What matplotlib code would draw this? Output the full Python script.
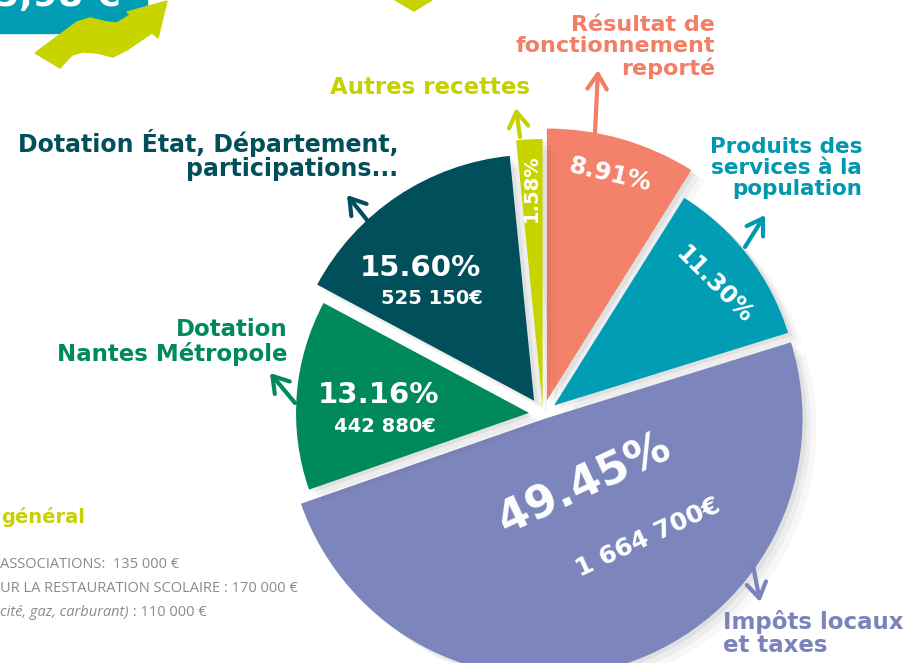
import matplotlib
matplotlib.use('Agg')
import matplotlib.pyplot as plt
import matplotlib.patheffects as pe
from matplotlib.patches import Rectangle, Polygon

W, H = 913, 663

# recettes de fonctionnement
labels = ['Résultat de\nfonctionnement\nreporté',
          'Produits des\nservices à la\npopulation',
          'Impôts locaux\net taxes',
          'Dotation\nNantes Métropole',
          'Dotation État, Département,\nparticipations...',
          'Autres recettes']
shares = [8.91, 11.30, 49.45, 13.16, 15.60, 1.58]
amounts = ['', '', '1 664 700€', '442 880€', '525 150€', '']
colors = ['#F4826A', '#009DB5', '#7D86BC', '#008A5A', '#004F5A', '#C8D400']

# bottom-left note
notes = ['ASSOCIATIONS:  135 000 €',
         'UR LA RESTAURATION SCOLAIRE : 170 000 €']
note_italic = 'cité, gaz, carburant)'
note_last = ' : 110 000 €'

# style per slice (pixels)
explode = [14, 14, 5, 14, 16, 8]
radii = [272, 245, 258, 233, 246, 267]


def Y(y):
    return H - y


fig = plt.figure(figsize=(W / 100, H / 100), dpi=100)
ax = fig.add_axes([0, 0, 1, 1])

wedges, _ = ax.pie(shares, colors=colors, explode=explode, center=(543, Y(414)),
                   radius=255, startangle=90, counterclock=False)
soft_shadow = [pe.SimplePatchShadow(offset=(10, -8), shadow_rgbFace='k', alpha=0.03),
               pe.SimplePatchShadow(offset=(6, -5), shadow_rgbFace='k', alpha=0.04),
               pe.SimplePatchShadow(offset=(3, -2), shadow_rgbFace='k', alpha=0.05),
               pe.Normal()]
for w, r in zip(wedges, radii):
    w.set_radius(r)
    w.set_path_effects(soft_shadow)

ax.set_xlim(0, W)
ax.set_ylim(0, H)
ax.set_aspect('equal')
ax.axis('off')

font = 'DejaVu Sans'

# values inside the slices
pct = [f'{s:.2f}%' for s in shares]
ax.text(610, Y(175), pct[0], color='white', fontsize=17.5, fontweight='bold', rotation=-13,
        ha='center', va='center', family=font)
ax.text(714, Y(285), pct[1], color='white', fontsize=17, fontweight='bold', rotation=-45,
        ha='center', va='center', family=font)
ax.text(584, Y(484), pct[2], color='white', fontsize=32, fontweight='bold', rotation=25,
        ha='center', va='center', family=font)
ax.text(648, Y(538), amounts[2], color='white', fontsize=18, fontweight='bold', rotation=25,
        ha='center', va='center', family=font)
ax.text(378, Y(395), pct[3], color='white', fontsize=21, fontweight='bold',
        ha='center', va='center', family=font)
ax.text(385, Y(427), amounts[3], color='white', fontsize=14, fontweight='bold',
        ha='center', va='center', family=font)
ax.text(420, Y(268), pct[4], color='white', fontsize=21, fontweight='bold',
        ha='center', va='center', family=font)
ax.text(432, Y(299), amounts[4], color='white', fontsize=14, fontweight='bold',
        ha='center', va='center', family=font)
ax.text(531, Y(188), pct[5], color='white', fontsize=14, fontweight='bold', rotation=90,
        ha='center', va='center', family=font)

# outer labels
text_colors = ['#F27E66', '#0097B0', '#7B84BA', '#008A5C', '#004F5A', '#C5D200']
ax.text(715, Y(47), labels[0], color=text_colors[0], fontsize=16, fontweight='bold',
        ha='right', va='center', linespacing=1.1, family=font)
ax.text(862, Y(168), labels[1], color=text_colors[1], fontsize=15.5, fontweight='bold',
        ha='right', va='center', linespacing=1.05, family=font)
ax.text(723, Y(633), labels[2], color=text_colors[2], fontsize=16.5, fontweight='bold',
        ha='left', va='center', linespacing=1.0, family=font)
ax.text(287, Y(342), labels[3], color=text_colors[3], fontsize=16.5, fontweight='bold',
        ha='right', va='center', linespacing=1.1, family=font)
ax.text(398, Y(155), labels[4], color=text_colors[4], fontsize=17, fontweight='bold',
        ha='right', va='center', linespacing=1.05, family=font)
ax.text(530, Y(88), labels[5], color=text_colors[5], fontsize=16.5, fontweight='bold',
        ha='right', va='center', family=font)

# arrows from slices to labels
arrows = [((595, 133), (598, 70)),
          ((745, 247), (765, 215)),
          ((752, 560), (760, 602)),
          ((295, 403), (270, 373)),
          ((367, 220), (347, 195)),
          ((520, 137), (516, 108))]
for (tail, tip), c in zip(arrows, text_colors):
    ax.annotate('', xy=(tip[0], Y(tip[1])), xytext=(tail[0], Y(tail[1])),
                arrowprops=dict(arrowstyle='->,head_length=0.55,head_width=0.35', color=c,
                                lw=3, mutation_scale=20, shrinkA=0, shrinkB=0,
                                capstyle='round', joinstyle='round'))

# decorations at the top (cut off in the original)
ax.add_patch(Rectangle((0, Y(33)), 147, 33, color='#009DB5', zorder=1))
ax.text(-6, Y(6), '5,98 €', color='white', fontsize=26, fontweight='bold', ha='left',
        va='baseline', family=font, zorder=2)
wave = [(35, 53), (77, 22), (90, 18), (107, 22), (117, 23), (130, 15), (127, 12),
        (167, 1), (158, 38), (152, 33), (127, 50), (113, 57), (97, 53), (83, 52),
        (72, 55), (60, 68)]
ax.add_patch(Polygon([(x, Y(y)) for x, y in wave], closed=True, color='#C8D400', zorder=3))
ax.add_patch(Polygon([(395, Y(0)), (432, Y(0)), (414, Y(11))], closed=True, color='#C8D400'))

# bottom-left text (cut off in the original)
ax.text(1, Y(517), 'général', color='#C5D200', fontsize=14, fontweight='bold',
        ha='left', va='center', family=font)
for i, line in enumerate(notes):
    ax.text(0, Y(565 + 24 * i), line, color='#8A8A8A', fontsize=10.5, ha='left',
            va='center', family='Open Sans')
t = ax.text(0, Y(613), note_italic, color='#8A8A8A', fontsize=10.5, style='italic',
            ha='left', va='center', family='Open Sans')
fig.canvas.draw()
bb = t.get_window_extent()
ax.text(bb.x1, Y(613), note_last, color='#8A8A8A', fontsize=10.5, ha='left', va='center',
        family='Open Sans')

fig.savefig('out.png', dpi=100)
